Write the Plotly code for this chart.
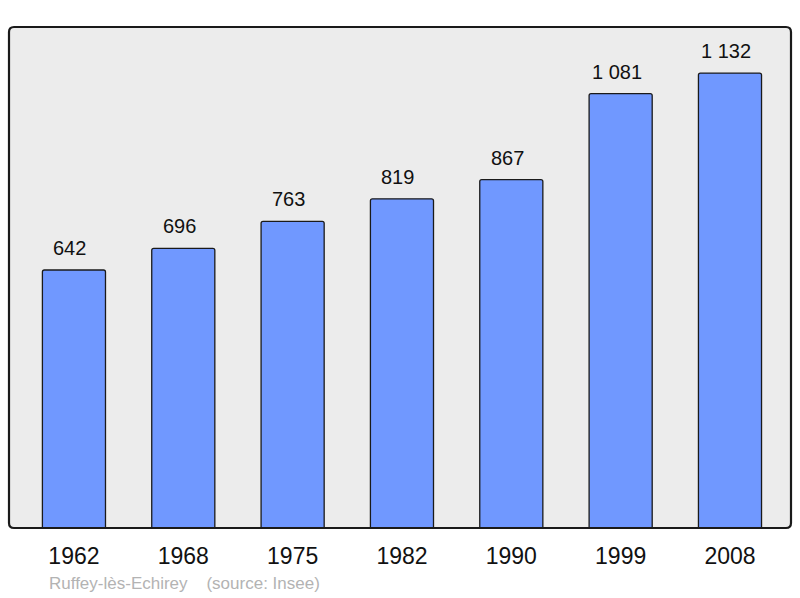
import plotly.graph_objects as go

years = ["1962", "1968", "1975", "1982", "1990", "1999", "2008"]
population = [642, 696, 763, 819, 867, 1081, 1132]
value_labels = ["642", "696", "763", "819", "867", "1 081", "1 132"]
footer = "Ruffey-lès-Echirey&nbsp;&nbsp;&nbsp;&nbsp;(source: Insee)"

W, H = 800, 598
ml, mr, mt, mb = 9, 9, 27, 70
pw, ph = W - ml - mr, H - mt - mb
FONT = "Liberation Sans, Arial"

fig = go.Figure()
fig.add_trace(go.Bar(
    x=list(range(len(years))), y=population,
    width=0.577,
    marker=dict(color="#7098ff", line=dict(color="#1a1a1a", width=1.3), cornerradius=2),
    hoverinfo="skip",
))

for i, (v, t) in enumerate(zip(population, value_labels)):
    fig.add_annotation(x=i, y=v, text=t, showarrow=False, yanchor="bottom",
                       yshift=9, xshift=-4, font=dict(size=20, color="#111", family=FONT))

# rounded frame
r = 5
rx, ry = r / pw, r / ph
def rounded(x0, y0, x1, y1):
    return (f"M {x0+rx},{y0} L {x1-rx},{y0} Q {x1},{y0} {x1},{y0+ry} "
            f"L {x1},{y1-ry} Q {x1},{y1} {x1-rx},{y1} L {x0+rx},{y1} "
            f"Q {x0},{y1} {x0},{y1-ry} L {x0},{y0+ry} Q {x0},{y0} {x0+rx},{y0} Z")
path = rounded(0, 0, 1, 1)
fig.add_shape(type="path", path=path, xref="paper", yref="paper",
              fillcolor="#ececec", line=dict(width=0), layer="below")
fig.add_shape(type="path", path=path, xref="paper", yref="paper",
              fillcolor="rgba(0,0,0,0)", line=dict(color="#1a1a1a", width=2.2), layer="above")

fig.add_annotation(xref="paper", yref="paper", x=(47 - ml) / pw, y=-(583 - mt - ph) / ph,
                   text=footer, showarrow=False, xanchor="left", yanchor="middle",
                   font=dict(size=17, color="#b3b3b3", family=FONT))

fig.update_layout(
    width=W, height=H,
    margin=dict(l=ml, r=mr, t=mt, b=mb),
    paper_bgcolor="white", plot_bgcolor="rgba(0,0,0,0)",
    showlegend=False,
    xaxis=dict(range=[-0.594, 6.558], tickmode="array", tickvals=list(range(len(years))),
               ticktext=years, showgrid=False, zeroline=False, showline=False, ticks="",
               tickfont=dict(size=23, color="#111", family=FONT),
               ticklabelstandoff=12, fixedrange=True),
    yaxis=dict(range=[0, 1246.6], showgrid=False, zeroline=False, showline=False,
               showticklabels=False, ticks="", fixedrange=True),
)

fig.write_html("out.html", post_script="document.body.style.margin='0';document.body.style.overflow='hidden';",
               config={"displayModeBar": False})
